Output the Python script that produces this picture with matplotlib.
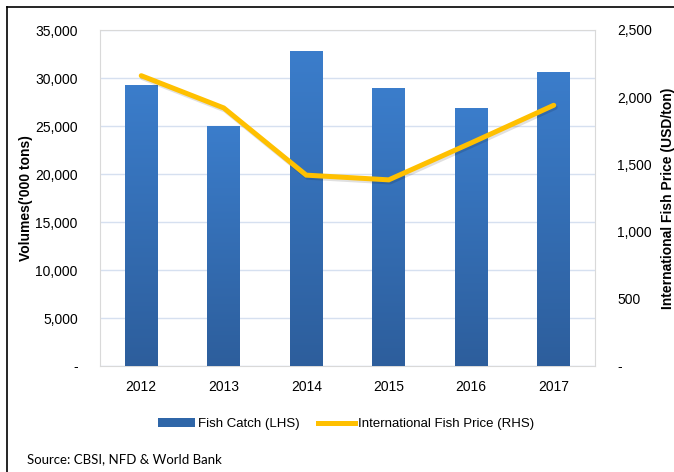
import numpy as np
import matplotlib
matplotlib.use("Agg")
import matplotlib.pyplot as plt
import matplotlib.patheffects as pe
from matplotlib.colors import LinearSegmentedColormap
from matplotlib.lines import Line2D
from matplotlib.patches import Patch
from matplotlib.ticker import FuncFormatter, MultipleLocator

years = ["2012", "2013", "2014", "2015", "2016", "2017"]
fish_catch = [29200, 24900, 32800, 28900, 26800, 30600]   # '000 tons (LHS)
fish_price = [2160, 1920, 1420, 1385, 1660, 1940]         # USD/ton (RHS)

SANS = ["Liberation Sans", "DejaVu Sans"]
plt.rcParams["font.family"] = SANS

fig = plt.figure(figsize=(6.74, 4.72), dpi=100)
ax = fig.add_axes([100 / 674, 1 - 366 / 472, 495 / 674, 336 / 472])
ax2 = ax.twinx()

x = np.arange(len(years))
w = 0.4

# bars with a vertical blue gradient
cmap = LinearSegmentedColormap.from_list("bar", ["#2D5E9C", "#3B7DCB"])
grad = np.linspace(0, 1, 256).reshape(-1, 1)
bars = ax.bar(x, fish_catch, width=w, color="none", zorder=3)
for b in bars:
    x0, h = b.get_x(), b.get_height()
    ax.imshow(grad, cmap=cmap, origin="lower", aspect="auto",
              extent=[x0, x0 + w, 0, h], zorder=3)

ax.set_xlim(-0.5, len(years) - 0.5)
ax.set_ylim(0, 35000)
ax.yaxis.set_major_locator(MultipleLocator(5000))
ax.yaxis.set_major_formatter(FuncFormatter(lambda v, p: "-" if v == 0 else f"{v:,.0f}"))
ax.grid(axis="y", color="#D6E0F0", linewidth=1, zorder=0)
ax.set_axisbelow(True)
ax.set_xticks(x)
ax.set_xticklabels(years)
ax.tick_params(axis="both", length=0, labelsize=10)
ax.tick_params(axis="y", pad=16)
ax.tick_params(axis="x", pad=10)
for s in ax.spines.values():
    s.set_color("#D9D9D9")
ax.set_ylabel("Volumes('000 tons)", fontsize=10, fontweight="bold")
ax.yaxis.set_label_coords(-0.135, 0.5)

# price line on the secondary axis
ax2.plot(x, fish_price, color="#FFC000", linewidth=3.6, solid_capstyle="round",
         solid_joinstyle="miter", zorder=4,
         path_effects=[pe.SimpleLineShadow(offset=(1, -1.5), alpha=0.12), pe.Normal()])
ax2.set_ylim(0, 2500)
ax2.yaxis.set_major_locator(MultipleLocator(500))
ax2.yaxis.set_major_formatter(FuncFormatter(lambda v, p: "-" if v == 0 else f"{v:,.0f}"))
ax2.tick_params(axis="y", length=0, labelsize=10, pad=16)
for s in ax2.spines.values():
    s.set_visible(False)
ax2.set_ylabel("International Fish Price (USD/ton)", fontsize=10, fontweight="bold",
               rotation=90)
ax2.yaxis.set_label_coords(1.133, 0.5)

handles = [Patch(facecolor="#2F66A8", edgecolor="none"),
           Line2D([0], [0], color="#FFC000", linewidth=3.6)]
fig.legend(handles, ["Fish Catch (LHS)", "International Fish Price (RHS)"],
           loc="center", bbox_to_anchor=(346 / 674, 1 - 424 / 472), ncol=2,
           frameon=False, fontsize=9.5, handlelength=2.8, handleheight=0.6,
           handletextpad=0.2, columnspacing=1.4)

fig.text(27 / 674, 1 - 459 / 472, "Source: CBSI, NFD & World Bank",
         fontsize=9.5, family=["Lato", "DejaVu Sans"], va="center", ha="left")

# outer frame (left and top edges)
fig.add_artist(Line2D([7 / 674, 7 / 674], [0, 1 - 7 / 472], color="black", linewidth=1.2,
                      transform=fig.transFigure))
fig.add_artist(Line2D([7 / 674, 1], [1 - 7 / 472, 1 - 7 / 472], color="black", linewidth=1.2,
                      transform=fig.transFigure))

fig.savefig("out.png", dpi=100)
